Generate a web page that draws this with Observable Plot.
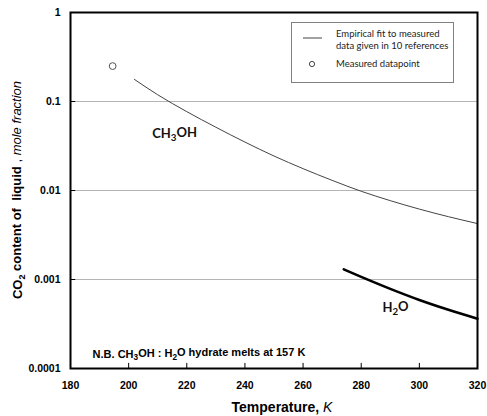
<!DOCTYPE html>
<html><head><meta charset="utf-8">
<script src="https://cdn.jsdelivr.net/npm/d3@7"></script>
<script src="https://cdn.jsdelivr.net/npm/@observablehq/plot@0.6"></script>
<style>
body{margin:0;background:#fff}
#wrap{position:relative;width:487px;height:416px}
#legend{position:absolute;left:291px;top:22px;width:161px;height:59px;border:1px solid #808080;background:#fff;font-family:Lato,"Noto Sans",sans-serif;font-size:9.5px;color:#222}
#legend .t{position:absolute;left:44px;line-height:12px;white-space:nowrap}
</style>
</head><body><div id="wrap"></div>
<script>
// Data
const ch3ohT = [202, 210, 220, 230, 240, 250, 260, 270, 280, 290, 300, 310, 320];
const ch3ohX = [0.177, 0.119, 0.0769, 0.0514, 0.0350, 0.0244, 0.0176, 0.0130, 0.0098, 0.00769, 0.00618, 0.00508, 0.00425];
const h2oT = [274, 280, 290, 300, 310, 320];
const h2oX = [0.00130, 0.00107, 0.000785, 0.000589, 0.000457, 0.000363];
const measuredT = [194.5];
const measuredX = [0.25];
const xTicks = [180, 200, 220, 240, 260, 280, 300, 320];
const yTicks = [0.0001, 0.001, 0.01, 0.1, 1];
const gridVals = [0.001, 0.01, 0.1];
const labels = [
  {t: 215.8, v: 0.0437, s: "CH_3OH"},
  {t: 291.8, v: 0.000484, s: "H_2O"}
];
const note = {t: 187.6, v: 0.000144, s: "N.B. CH_3OH : H_2O hydrate melts at 157 K"};

const ch3oh = ch3ohT.map((t, i) => ({t, v: ch3ohX[i]}));
const h2o = h2oT.map((t, i) => ({t, v: h2oX[i]}));
const measured = measuredT.map((t, i) => ({t, v: measuredX[i]}));

const plot = Plot.plot({
  width: 487, height: 416,
  marginLeft: 70, marginRight: 10, marginTop: 12, marginBottom: 48,
  style: {fontFamily: "'Liberation Sans', Arial, sans-serif", background: "white", color: "black"},
  x: {domain: [180, 320]},
  y: {type: "log", domain: [0.0001, 1]},
  marks: [
    Plot.ruleY(gridVals, {x1: 180, x2: 320, stroke: "#b4b4b4", strokeWidth: 1}),
    Plot.ruleY(yTicks, {x1: 180, x2: 181.8, stroke: "black", strokeWidth: 1}),
    Plot.ruleX(xTicks, {y1: 0.0001, y2: 0.000114, stroke: "black", strokeWidth: 1}),
    Plot.axisX({ticks: xTicks, tickSize: 0, tickPadding: 13, label: null, fontWeight: "bold", fontSize: 10.5, tickFormat: d => String(d)}),
    Plot.axisY({ticks: yTicks, tickSize: 0, tickPadding: 10, label: null, fontWeight: "bold", fontSize: 10.5, tickFormat: d => String(d)}),
    Plot.line(ch3oh, {x: "t", y: "v", stroke: "#444", strokeWidth: 1, curve: "monotone-x"}),
    Plot.line(h2o, {x: "t", y: "v", stroke: "black", strokeWidth: 2.6, curve: "monotone-x"}),
    Plot.dot(measured, {x: "t", y: "v", r: 3.4, stroke: "#555", strokeWidth: 1, fill: "white"}),
    Plot.text(labels, {x: "t", y: "v", text: "s", fontWeight: "bold", fontSize: 13, fontFamily: "Lato, 'Noto Sans', sans-serif", fill: "#111"}),
    Plot.text([note], {x: "t", y: "v", text: "s", textAnchor: "start", fontWeight: "bold", fontSize: 11, fill: "black"}),
    Plot.frame({stroke: "black", strokeWidth: 2})
  ]
});

const svg = d3.select(plot);
// subscripts
svg.selectAll("text").each(function() {
  const el = d3.select(this);
  const txt = this.textContent;
  if (!txt.includes("_") || this.querySelector("tspan")) return;
  el.text(null);
  const parts = txt.split(/(_\d)/);
  let down = false;
  parts.forEach(p => {
    if (!p) return;
    if (p.startsWith("_")) {
      el.append("tspan").attr("dy", "0.3em").attr("font-size", "75%").text(p.slice(1));
      down = true;
    } else {
      const ts = el.append("tspan").text(p);
      if (down) { ts.attr("dy", "-0.3em"); down = false; }
    }
  });
});

// axis titles
const yl = svg.append("text")
  .attr("transform", "translate(22,190) rotate(-90)")
  .attr("text-anchor", "middle")
  .attr("font-family", "'Liberation Sans', Arial, sans-serif")
  .attr("font-size", 13).attr("fill", "black");
yl.append("tspan").attr("font-weight", "bold").text("CO");
yl.append("tspan").attr("font-weight", "bold").attr("font-size", "70%").attr("dy", "0.35em").text("2");
yl.append("tspan").attr("font-weight", "bold").attr("dy", "-0.35em").text(" content of  liquid");
yl.append("tspan").text(" , ");
yl.append("tspan").attr("font-style", "italic").text("mole fraction");

const xl = svg.append("text")
  .attr("x", 282).attr("y", 412)
  .attr("text-anchor", "middle")
  .attr("font-family", "'Liberation Sans', Arial, sans-serif")
  .attr("font-size", 14).attr("fill", "black");
xl.append("tspan").attr("font-weight", "bold").text("Temperature, ");
xl.append("tspan").attr("font-style", "italic").text("K");

const wrap = document.getElementById("wrap");
wrap.appendChild(plot);

// legend
const lg = document.createElement("div");
lg.id = "legend";
lg.innerHTML = `
<svg width="40" height="59" style="position:absolute;left:0;top:0">
  <line x1="11" x2="30" y1="15" y2="15" stroke="#444" stroke-width="1"/>
  <circle cx="20" cy="41" r="2.6" fill="white" stroke="#444" stroke-width="1"/>
</svg>
<div class="t" style="top:5px">Empirical fit to measured</div>
<div class="t" style="top:17px">data given in 10 references</div>
<div class="t" style="top:35px">Measured datapoint</div>`;
wrap.appendChild(lg);
</script>
</body></html>
